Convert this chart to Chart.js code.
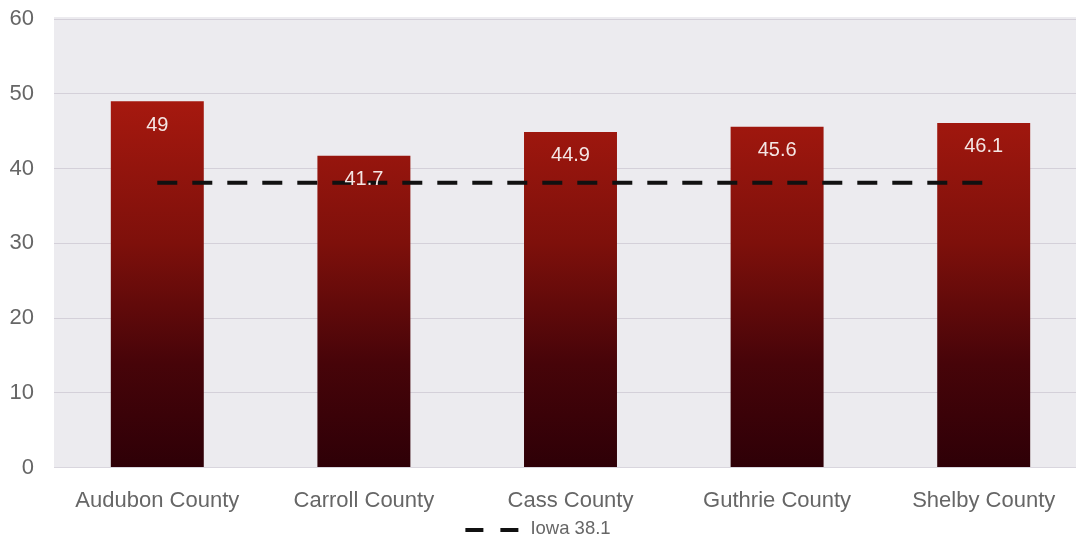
<!DOCTYPE html>
<html>
<head>
<meta charset="utf-8">
<script src="https://cdn.jsdelivr.net/npm/chart.js@4.4.1/dist/chart.umd.min.js"></script>
<style>
  html, body { margin: 0; padding: 0; background: #fff; overflow: hidden; }
  #wrap { position: relative; width: 1091px; height: 539px; }
</style>
</head>
<body>
<div id="wrap"><canvas id="chart"></canvas></div>
<script>
const counties = ['Audubon County', 'Carroll County', 'Cass County', 'Guthrie County', 'Shelby County'];
const countyValues = [49, 41.7, 44.9, 45.6, 46.1];
const stateLabel = 'Iowa';
const stateValue = 38.1;
const yTicks = [0, 10, 20, 30, 40, 50, 60];

const FONT = '"Liberation Sans", Arial, Helvetica, sans-serif';

// light panel behind the plotting area
const plotBackground = {
  id: 'plotBackground',
  beforeDraw(chart) {
    const { ctx, chartArea: a } = chart;
    ctx.save();
    ctx.fillStyle = '#ecebef';
    ctx.fillRect(a.left, a.top - 2, a.right - a.left, a.bottom - a.top + 2);
    ctx.restore();
  }
};

// value printed near the top of each bar
const barValues = {
  id: 'barValues',
  afterDatasetsDraw(chart) {
    const { ctx } = chart;
    const meta = chart.getDatasetMeta(0);
    ctx.save();
    ctx.font = '20px ' + FONT;
    ctx.fillStyle = '#f4e6e4';
    ctx.textAlign = 'center';
    ctx.textBaseline = 'middle';
    meta.data.forEach((bar, i) => {
      ctx.fillText(String(countyValues[i]), bar.x, bar.y + 24);
    });
    ctx.restore();
  }
};

// single legend entry for the state reference line, centred under the page
const stateLegend = {
  id: 'stateLegend',
  afterDraw(chart) {
    const { ctx } = chart;
    const ds = chart.data.datasets[1];
    const text = ds.label;
    ctx.save();
    ctx.font = '18.5px ' + FONT;
    const lineW = 53, gap = 12;
    const total = lineW + gap + ctx.measureText(text).width;
    const x0 = 538 - total / 2;
    const y = 530;
    ctx.strokeStyle = ds.borderColor;
    ctx.lineWidth = 4;
    ctx.setLineDash([18, 17]);
    ctx.beginPath();
    ctx.moveTo(x0, y);
    ctx.lineTo(x0 + lineW, y);
    ctx.stroke();
    ctx.setLineDash([]);
    ctx.fillStyle = '#666';
    ctx.textBaseline = 'middle';
    ctx.fillText(text, x0 + lineW + gap, y - 1);
    ctx.restore();
  }
};

function barGradient(context) {
  const { chart } = context;
  const a = chart.chartArea;
  if (!a) return '#8a130d';
  const y = chart.scales.y;
  const g = chart.ctx.createLinearGradient(0, y.getPixelForValue(50), 0, a.bottom);
  g.addColorStop(0, '#a8190f');
  g.addColorStop(0.4, '#7e100b');
  g.addColorStop(0.72, '#470409');
  g.addColorStop(1, '#2e0007');
  return g;
}

new Chart(document.getElementById('chart'), {
  data: {
    labels: counties,
    datasets: [
      {
        type: 'bar',
        label: 'County',
        data: countyValues,
        backgroundColor: barGradient,
        borderWidth: 0,
        barPercentage: 0.9,
        categoryPercentage: 0.5,
        order: 2
      },
      {
        type: 'line',
        label: stateLabel + ' ' + stateValue,
        data: counties.map(() => stateValue),
        borderColor: '#111',
        backgroundColor: '#111',
        borderWidth: 4,
        borderDash: [20, 15],
        pointRadius: 0,
        fill: false,
        order: 1
      }
    ]
  },
  options: {
    responsive: true,
    maintainAspectRatio: false,
    animation: false,
    layout: { padding: { top: 19, right: 4, left: 0, bottom: 13 } },
    plugins: {
      tooltip: { enabled: false },
      legend: { display: false }
    },
    scales: {
      x: {
        grid: { display: false },
        border: { display: false },
        ticks: { color: '#666', font: { family: FONT, size: 22 }, padding: 12 }
      },
      y: {
        min: 0,
        max: 60,
        afterBuildTicks: axis => { axis.ticks = yTicks.map(v => ({ value: v })); },
        afterFit: axis => { axis.width = 54; axis.paddingTop = 0; },
        grid: { color: 'rgba(150,140,160,0.28)', drawTicks: false },
        border: { display: false },
        ticks: { color: '#666', font: { family: FONT, size: 22 }, padding: 20 }
      }
    }
  },
  plugins: [plotBackground, barValues, stateLegend]
});
</script>
</body>
</html>
